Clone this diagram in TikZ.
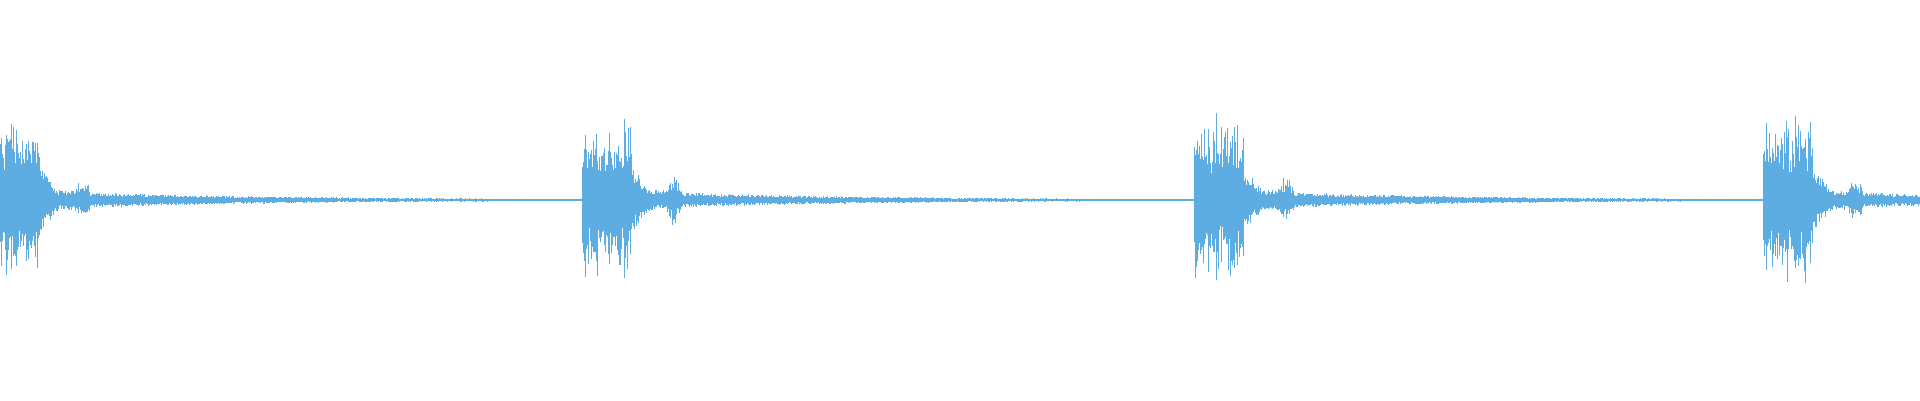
\documentclass[tikz,border=0pt]{standalone}
\usepackage{tikz}
\definecolor{wave}{HTML}{5DADE2}
\tikzset{sample/.style={wave, line width=0.9pt}}

\begin{document}
\begin{tikzpicture}[x=1pt, y=1pt]
	% frame
	\useasboundingbox (0,0) rectangle (1920,400);
	\pgfmathsetseed{7}

	% waveform, one line per pixel column
	\foreach \x in {0,...,1919}{
		\pgfmathsetmacro{\d}{\x>=1763 ? \x-1763 : (\x>=1194 ? \x-1194 : (\x>=582 ? \x-582 : \x+10))}
		\pgfmathsetmacro{\b}{min(abs(\d-92),20)}
		\pgfmathsetmacro{\t}{min(\d,1500)}
		\pgfmathsetmacro{\env}{\d<50 ? 50+30*rnd+20*(rnd>0.9) : (\d<68 ? 32-1.2*(\d-50) : (\d<100 ? 10+(4+14*rnd)*exp(-\b*\b/30) : 0.6+7*exp(-(\t-100)/200)))}
		\pgfmathsetmacro{\up}{\env*(0.5+0.5*rnd)}
		\pgfmathsetmacro{\dn}{\env*(0.5+0.5*rnd)}
		\draw[sample] (\x,200+\up) -- (\x,200-\dn);
	}

\end{tikzpicture}
\end{document}
